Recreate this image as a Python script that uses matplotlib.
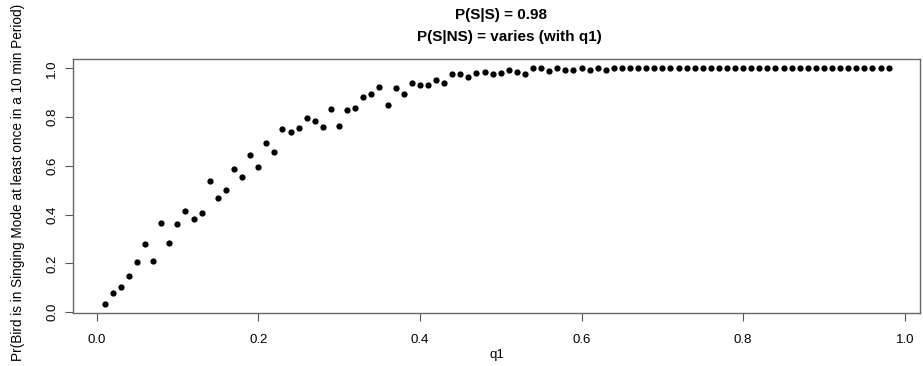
import numpy as np
import matplotlib
matplotlib.use("Agg")
import matplotlib.pyplot as plt

plt.rcParams['font.family'] = ['Liberation Sans', 'DejaVu Sans']

# q1 values 0.01 .. 0.98
q1 = [round(0.01 * i, 2) for i in range(1, 99)]
prob = [
    0.034, 0.077, 0.105, 0.150, 0.206, 0.281, 0.210, 0.365, 0.284, 0.362,
    0.414, 0.383, 0.407, 0.537, 0.467, 0.501, 0.586, 0.555, 0.645, 0.597,
    0.695, 0.657, 0.751, 0.740, 0.754, 0.796, 0.785, 0.761, 0.835, 0.765,
    0.828, 0.839, 0.881, 0.895, 0.923, 0.850, 0.919, 0.895, 0.941, 0.930,
    0.933, 0.951, 0.941, 0.975, 0.975, 0.964, 0.979, 0.986, 0.975, 0.979,
    0.993, 0.986, 0.975, 1.000, 1.000, 0.989, 1.000, 0.993, 0.993, 1.000,
    0.993, 1.000, 0.993, 1.000,
] + [1.0] * 34

xticks = [0.0, 0.2, 0.4, 0.6, 0.8, 1.0]
yticks = [0.0, 0.2, 0.4, 0.6, 0.8, 1.0]
title_lines = ['P(S|S) = 0.98', 'P(S|NS) = varies (with q1)']

W, H = 923, 366
fig = plt.figure(figsize=(W / 100, H / 100), dpi=100)
ax = fig.add_axes([73.3 / W, 1 - 313.4 / H, (920 - 73.3) / W, (313.4 - 58.9) / H])

ax.plot(q1, prob, 'o', color='black', markersize=4.5, markeredgewidth=0)

ax.set_xlim(-0.0288, 1.0188)
ax.set_ylim(-0.0046, 1.0386)
ax.set_xticks(xticks)
ax.set_yticks(yticks)
ax.set_xticklabels([f"{t:.1f}" for t in xticks], fontsize=9.5)
ax.set_yticklabels([f"{t:.1f}" for t in yticks], fontsize=9.5, rotation=90, va='center')
ax.tick_params(direction='out', length=6, width=0.8, color='#555555')
ax.tick_params(axis='x', pad=9)
ax.tick_params(axis='y', pad=5)
for s in ax.spines.values():
    s.set_color('#666666')
    s.set_linewidth(1.0)

ax.set_xlabel('q1', fontsize=9.5, labelpad=2)
ax.set_ylabel('Pr(Bird is in Singing Mode at least once in a 10 min Period)', fontsize=9.8,
              va='center', ha='center')
ax.yaxis.set_label_coords((18 - 73.3) / 846.7, (313.4 - 182.5) / 254.5)

# two title lines, as in the original (each line centred on its own)
fig.text(501 / W, 1 - 15 / H, title_lines[0], ha='center', va='center',
         fontsize=11, fontweight='bold')
fig.text(509 / W, 1 - 37 / H, title_lines[1], ha='center', va='center',
         fontsize=11, fontweight='bold')

fig.savefig('out.png', dpi=100)
